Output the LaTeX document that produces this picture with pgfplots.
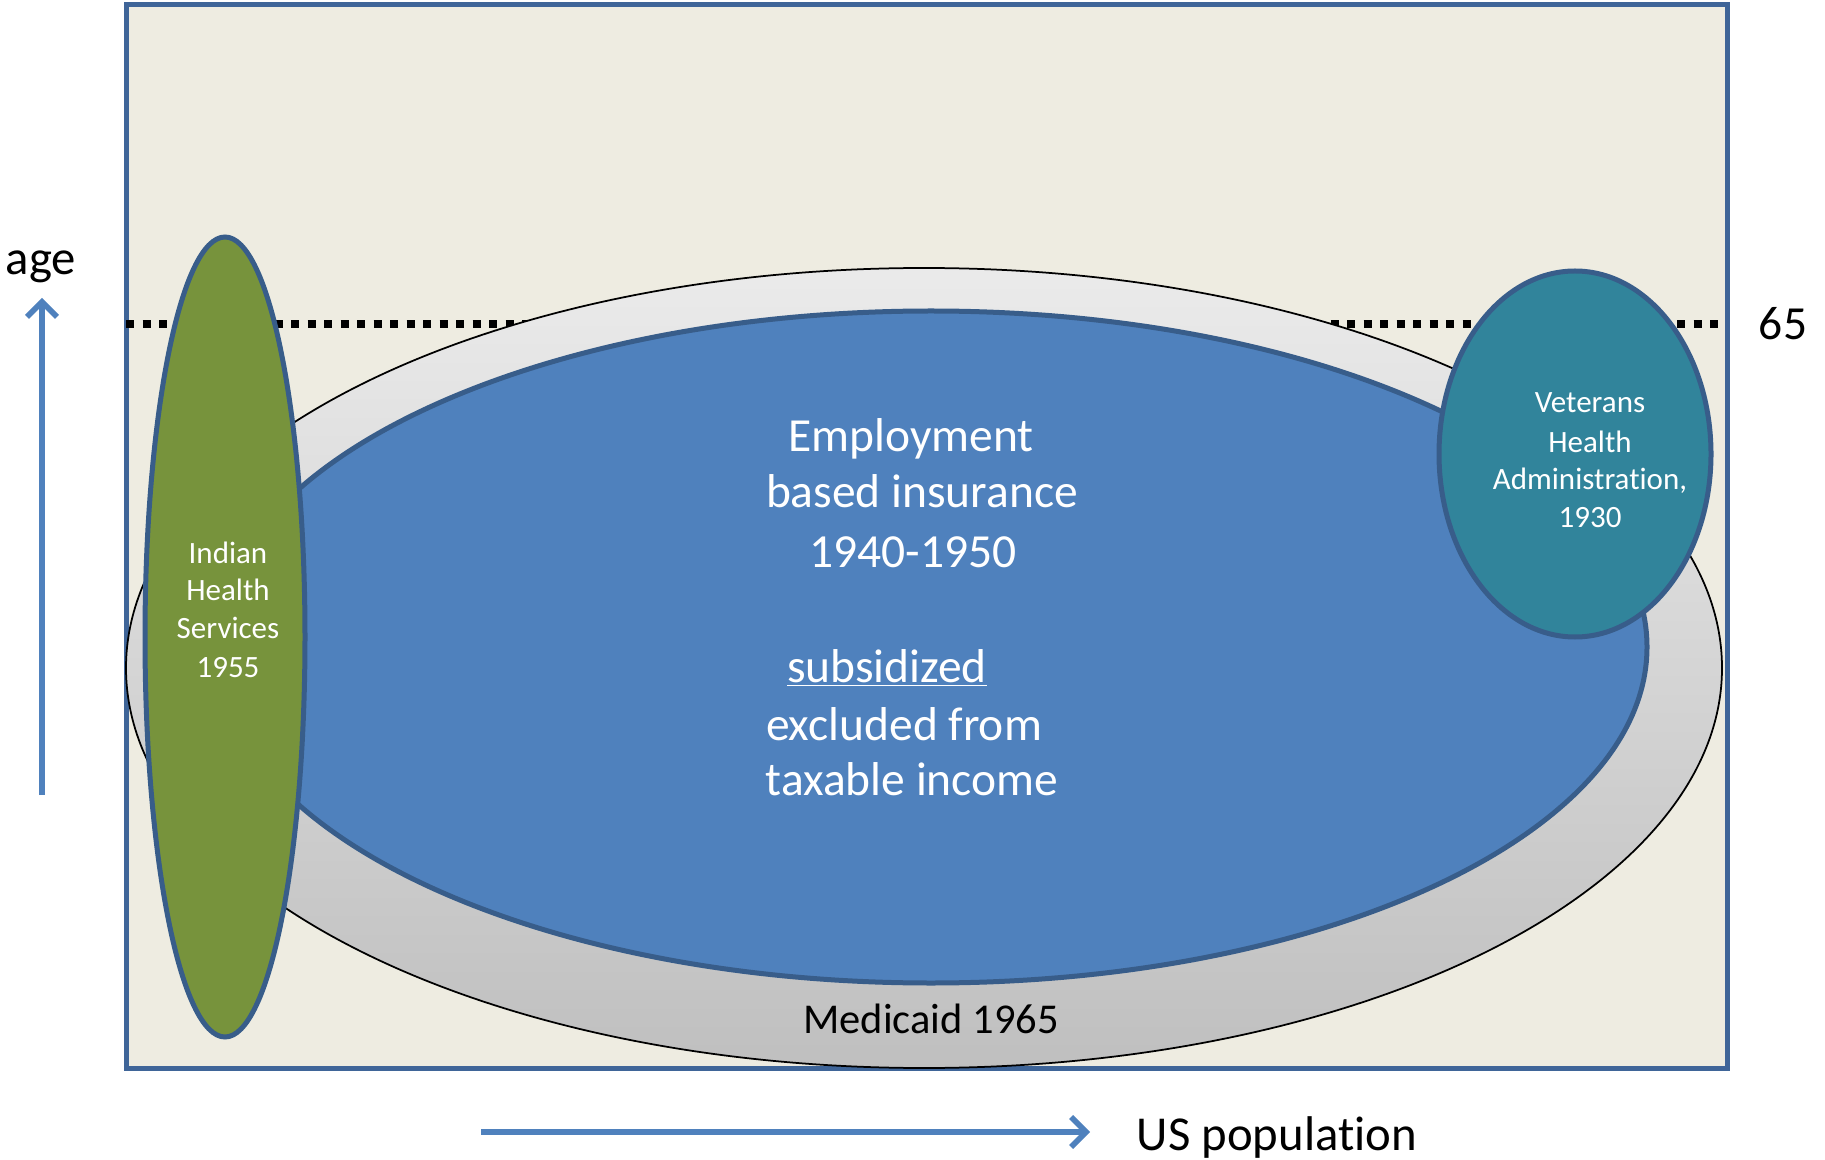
\documentclass[border=0pt]{standalone}
\usepackage{pgfplots}
\pgfplotsset{compat=1.18}
\usepackage{fontspec}
\setmainfont{Carlito}[Ligatures={NoCommon}]
\usetikzlibrary{arrows.meta}
\definecolor{bgbeige}{HTML}{EEECE1}
\definecolor{boxblue}{HTML}{3F6598}
\definecolor{edgeblue}{HTML}{385D8A}
\definecolor{empblue}{HTML}{4F81BD}
\definecolor{indgreen}{HTML}{77933C}
\definecolor{vetteal}{HTML}{31849B}
\definecolor{arrowblue}{HTML}{4F81BD}
\begin{document}
\begin{tikzpicture}
\begin{axis}[x=0.4pt,y=0.4pt,xmin=0,xmax=1825,ymin=0,ymax=1159,
  hide axis,clip=false]
\path (axis cs:0,0) rectangle (axis cs:1825,1159);
% frame
\addplot[draw=boxblue, line width=2pt, fill=bgbeige, line join=miter]
  coordinates {(126,1154) (1727,1154) (1727,91) (126,91)} -- cycle;
% age 65 line
\addplot[black, line width=3.2pt, dash pattern=on 3.2pt off 3.4pt]
  coordinates {(126,835) (1718,835)};
% Medicaid
\shade[top color=black!8, bottom color=black!25]
  (axis cs:924,491) ellipse [x radius=798, y radius=400];
\draw[black, line width=0.7pt]
  (axis cs:924,491) ellipse [x radius=798, y radius=400];
% Employment
\draw[fill=empblue, draw=edgeblue, line width=2pt]
  (axis cs:931,512) ellipse [x radius=716, y radius=336];
% Indian
\draw[fill=indgreen, draw=edgeblue, line width=2pt]
  (axis cs:225,522) ellipse [x radius=80, y radius=400];
% Veterans
\draw[fill=vetteal, draw=edgeblue, line width=2pt]
  (axis cs:1575,705) ellipse [x radius=136, y radius=183];
% arrows
\addplot[arrowblue, line width=2.2pt, -{Straight Barb[length=6pt,width=12pt,line width=2.2pt]}]
  coordinates {(42,364) (42,861)};
\addplot[arrowblue, line width=2.2pt, -{Straight Barb[length=6pt,width=12pt,line width=2.2pt]}]
  coordinates {(481,27) (1090,27)};
% texts
\begin{scope}[every node/.style={anchor=base, inner sep=0pt, text=white, font=\fontsize{19}{23}\selectfont}]
\node at (axis cs:911,707) {Employment};
\node at (axis cs:922,651) {based insurance};
\node at (axis cs:913,592) {1940-1950};
\node at (axis cs:887,477) {\underline{subsidized}};
\node at (axis cs:904,419) {excluded from};
\node at (axis cs:912,364) {taxable income};
\end{scope}
\begin{scope}[every node/.style={anchor=base, inner sep=0pt, text=white, font=\fontsize{12.4}{15}\selectfont}]
\node at (axis cs:228,596) {Indian};
\node at (axis cs:228,559) {Health};
\node at (axis cs:228,521) {Services};
\node at (axis cs:228,482) {1955};
\node at (axis cs:1590,746) {Veterans};
\node at (axis cs:1590,706) {Health};
\node at (axis cs:1590,669) {Administration,};
\node at (axis cs:1590,631) {1930};
\end{scope}
\node[anchor=base, inner sep=0pt, font=\fontsize{19}{23}\selectfont] at (axis cs:1783,819) {65};
\node[anchor=base, inner sep=0pt, font=\fontsize{19.5}{23}\selectfont] at (axis cs:41,884) {age};
\node[anchor=base, inner sep=0pt, font=\fontsize{17}{20}\selectfont] at (axis cs:931,126) {Medicaid 1965};
\node[anchor=base, inner sep=0pt, font=\fontsize{19.5}{23}\selectfont] at (axis cs:1277,9) {US population};
\end{axis}
\end{tikzpicture}
\end{document}
